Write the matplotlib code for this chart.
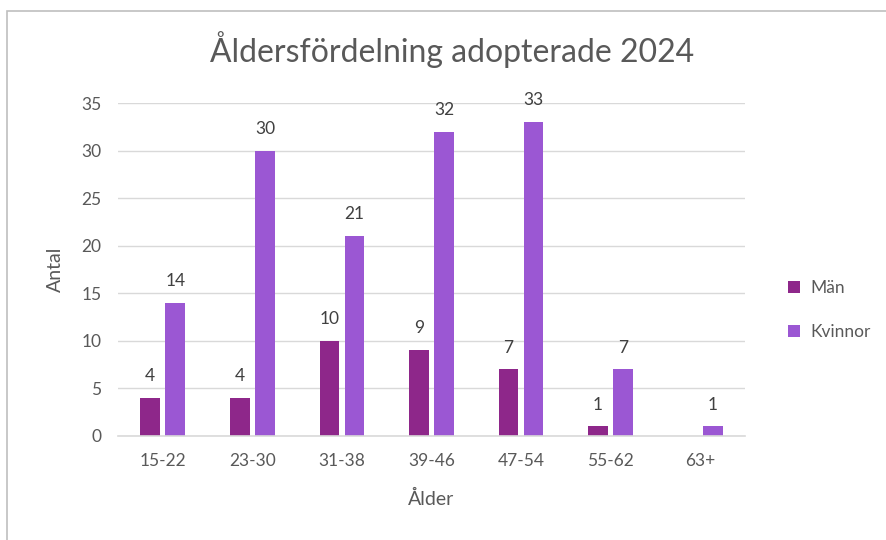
import matplotlib
matplotlib.use("Agg")
from matplotlib import pyplot as plt
from matplotlib import patches as patch
import numpy as np

categories = ['15-22', '23-30', '31-38', '39-46', '47-54', '55-62', '63+']
man = [4, 4, 10, 9, 7, 1, 0]
kvinnor = [14, 30, 21, 32, 33, 7, 1]

plt.rcParams['font.family'] = ['Lato', 'DejaVu Sans']

col_man = '#8E278A'
col_kv = '#9B57D3'
txt = '#595959'

fig = plt.figure(figsize=(8.87, 5.4), dpi=100)
ax = fig.add_axes([118 / 887, 1 - 436 / 540, (745 - 118) / 887, (436 - 103) / 540])

# chart frame (cropped on right/bottom)
frame = patch.Rectangle((7 / 887, -0.1), 1.2, 1.1 - 11 / 540,
                        transform=fig.transFigure, fill=False,
                        edgecolor='#BFBFBF', linewidth=1.2)
fig.patches.append(frame)

x = np.arange(len(categories))
w = 0.22
gap = 0.03
b1 = ax.bar(x - w / 2 - gap, man, w, color=col_man, label='Män')
b2 = ax.bar(x + w / 2 + gap, kvinnor, w, color=col_kv, label='Kvinnor')

for bars, vals in ((b1, man), (b2, kvinnor)):
    for b, v in zip(bars, vals):
        if v == 0:
            continue
        ax.annotate(str(v), (b.get_x() + b.get_width() / 2, v),
                    xytext=(0, 10), textcoords='offset points',
                    ha='center', va='bottom', fontsize=12.5, color='#404040')

ax.set_xlim(-0.5, len(categories) - 0.5)
ax.set_ylim(0, 35)
ax.set_yticks(range(0, 36, 5))
ax.set_xticks(x)
ax.set_xticklabels(categories)
ax.yaxis.grid(True, color='#D9D9D9', linewidth=1)
ax.set_axisbelow(True)
for s in ['top', 'right', 'left']:
    ax.spines[s].set_visible(False)
ax.spines['bottom'].set_color('#D9D9D9')
ax.spines['bottom'].set_linewidth(1.2)
ax.tick_params(axis='both', length=0, labelsize=12.5, colors=txt)
ax.tick_params(axis='x', pad=12)
ax.tick_params(axis='y', pad=12)

ax.set_xlabel('Ålder', fontsize=14, color=txt, labelpad=15)
ax.set_ylabel('Antal', fontsize=14, color=txt, labelpad=12)
fig.text(452 / 887, 1 - 50 / 540, 'Åldersfördelning adopterade 2024',
         ha='center', va='center', fontsize=23, color=txt)

ax.legend(loc='center left', bbox_to_anchor=(772 / 887, 1 - 310 / 540),
          bbox_transform=fig.transFigure, frameon=False, fontsize=12.5,
          handlelength=0.7, handleheight=0.7, labelspacing=1.6,
          labelcolor=txt, handletextpad=0.6)

fig.savefig('out.png', dpi=100)
